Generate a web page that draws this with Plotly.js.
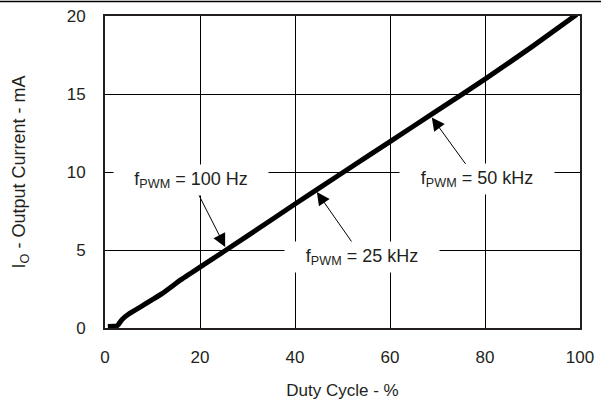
<!DOCTYPE html>
<html>
<head>
<meta charset="utf-8">
<script src="https://cdn.plot.ly/plotly-3.0.1.min.js"></script>
<style>html,body{margin:0;padding:0;background:#fff;}#chart{width:601px;height:406px;}</style>
</head>
<body>
<div id="chart"></div>
<script>
// Duty cycle (%) vs output current (mA)
const dutyCycle = [0.6, 2.6, 3.6, 5, 8, 12, 16, 20, 30, 40, 50, 60, 70, 80, 90, 99.3];
const outputCurrent = [0.1, 0.15, 0.55, 0.9, 1.45, 2.2, 3.1, 3.9, 5.9, 7.95, 9.95, 11.95, 13.95, 15.95, 18.05, 20.1];
const xTicks = [0, 20, 40, 60, 80, 100];
const yTicks = [0, 5, 10, 15, 20];
const labels = ['f<sub>PWM</sub> = 100 Hz', 'f<sub>PWM</sub> = 25 kHz', 'f<sub>PWM</sub> = 50 kHz'];
const labelTipX = [25.3, 44.6, 68.8];
const labelTipY = [5.2, 8.72, 13.5];

const font = 'Liberation Sans, Arial, sans-serif';
const txt = '#231f20';

const offsets = [[-34, -67], [45.5, 65], [45, 62]];
const annotations = labels.map((t, i) => ({
  x: labelTipX[i], y: labelTipY[i], xref: 'x', yref: 'y',
  text: t, showarrow: true, ax: offsets[i][0], ay: offsets[i][1],
  arrowhead: 2, arrowsize: 2.6, arrowwidth: 1, arrowcolor: '#000',
  bgcolor: '#fff', width: 146, height: 22, borderpad: 4,
  font: {family: font, size: 18, color: txt}
}));

const trace = {
  x: dutyCycle, y: outputCurrent, type: 'scatter', mode: 'lines',
  line: {color: '#000', width: 5, shape: 'spline', smoothing: 0.3}, cliponaxis: false, hoverinfo: 'skip'
};

const layout = {
  width: 601, height: 406,
  margin: {l: 105, r: 21, t: 16, b: 78},
  paper_bgcolor: '#fff', plot_bgcolor: '#fff',
  showlegend: false,
  font: {family: font, size: 17, color: txt},
  xaxis: {
    range: [0, 100], tickvals: xTicks, ticktext: xTicks.map(String),
    showgrid: true, gridcolor: '#000', gridwidth: 1, zeroline: false,
    showline: true, mirror: true, linecolor: '#231f20', linewidth: 2,
    ticks: '', ticklabelstandoff: 13,
    tickfont: {family: font, size: 17, color: txt},
    title: {text: 'Duty Cycle - %', font: {family: font, size: 17, color: txt}, standoff: 18},
    fixedrange: true
  },
  yaxis: {
    range: [0, 20], tickvals: yTicks, ticktext: yTicks.map(String),
    showgrid: true, gridcolor: '#000', gridwidth: 1, zeroline: false,
    showline: true, mirror: true, linecolor: '#231f20', linewidth: 2,
    ticks: '', ticklabelstandoff: 14,
    tickfont: {family: font, size: 17, color: txt},
    title: {text: 'I<sub>O</sub> - Output Current - mA', font: {family: font, size: 18, color: txt}, standoff: 36},
    fixedrange: true
  },
  annotations: annotations,
  shapes: [{
    type: 'line', xref: 'paper', yref: 'paper',
    x0: -105 / 475, x1: 496 / 475, y0: 1 + 14.5 / 312, y1: 1 + 14.5 / 312,
    line: {color: '#000', width: 1.5}
  }]
};

Plotly.newPlot('chart', [trace], layout, {displayModeBar: false, staticPlot: true});
</script>
</body>
</html>
